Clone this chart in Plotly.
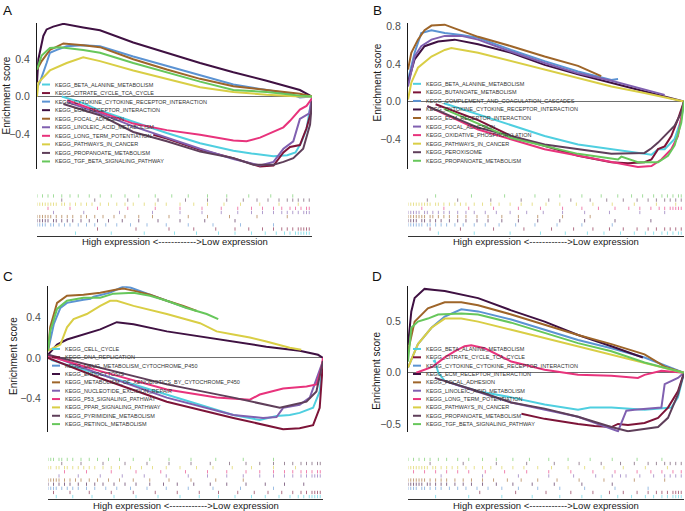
import plotly.graph_objects as go

W, H = 685, 511
FONT = "Liberation Sans, Arial, sans-serif"

# colours of the ten gene sets (same order in every panel)
COLORS = ["#4FCFE0", "#7D1438", "#5B93D3", "#3F1142", "#9E6529",
          "#8060B0", "#E8337C", "#D9CE45", "#5F3F5A", "#67C75B"]

# ---------- gene set names ----------
SETS_A = ["KEGG_BETA_ALANINE_METABOLISM", "KEGG_CITRATE_CYCLE_TCA_CYCLE",
          "KEGG_CYTOKINE_CYTOKINE_RECEPTOR_INTERACTION", "KEGG_ECM_RECEPTOR_INTERACTION",
          "KEGG_FOCAL_ADHESION", "KEGG_LINOLEIC_ACID_METABOLISM", "KEGG_LONG_TERM_POTENTIATION",
          "KEGG_PATHWAYS_IN_CANCER", "KEGG_PROPANOATE_METABOLISM", "KEGG_TGF_BETA_SIGNALING_PATHWAY"]
SETS_B = ["KEGG_BETA_ALANINE_METABOLISM", "KEGG_BUTANOATE_METABOLISM",
          "KEGG_COMPLEMENT_AND_COAGULATION_CASCADES", "KEGG_CYTOKINE_CYTOKINE_RECEPTOR_INTERACTION",
          "KEGG_ECM_RECEPTOR_INTERACTION", "KEGG_FOCAL_ADHESION", "KEGG_OXIDATIVE_PHOSPHORYLATION",
          "KEGG_PATHWAYS_IN_CANCER", "KEGG_PEROXISOME", "KEGG_PROPANOATE_METABOLISM"]
SETS_C = ["KEGG_CELL_CYCLE", "KEGG_DNA_REPLICATION", "KEGG_DRUG_METABOLISM_CYTOCHROME_P450",
          "KEGG_ENDOCYTOSIS", "KEGG_METABOLISM_OF_XENOBIOTICS_BY_CYTOCHROME_P450",
          "KEGG_NUCLEOTIDE_EXCISION_REPAIR", "KEGG_P53_SIGNALING_PATHWAY",
          "KEGG_PPAR_SIGNALING_PATHWAY", "KEGG_PYRIMIDINE_METABOLISM", "KEGG_RETINOL_METABOLISM"]
SETS_D = SETS_A

# ---------- running enrichment scores: (rank %, ES) ----------
A1 = [(9, 0.0), (16.8, -0.07), (22.9, -0.15), (35, -0.27), (47.2, -0.39), (59.3, -0.5), (71.4, -0.58),
      (78, -0.61), (86, -0.64), (91, -0.63), (94, -0.6), (96, -0.5), (98, -0.35), (100, 0)]
A2 = [(42.3, -0.41), (47.2, -0.45), (59.3, -0.57), (71.4, -0.66), (81.1, -0.75), (86, -0.74), (89.6, -0.6),
      (92, -0.54), (95.6, -0.52), (98, -0.34), (99.3, -0.2), (100, -0.02)]
A3 = [(0, 0.1), (1, 0.15), (3.5, 0.36), (4.7, 0.47), (7.2, 0.5), (10.8, 0.54), (16.8, 0.55), (22.9, 0.54),
      (35, 0.43), (47.2, 0.33), (59.3, 0.23), (71.4, 0.13), (83.5, 0.07), (92, 0.03), (95.6, -0.01), (100, 0)]
A4 = [(0, 0.15), (0.5, 0.4), (2.3, 0.65), (3.5, 0.72), (5.9, 0.75), (9.6, 0.78), (16.8, 0.74), (22.9, 0.71),
      (35, 0.58), (47.2, 0.47), (59.3, 0.36), (71.4, 0.26), (83.5, 0.17), (95.6, 0.07), (100, 0)]
A5 = [(0, 0.29), (1.7, 0.38), (4.7, 0.5), (9.6, 0.57), (16.8, 0.55), (22.9, 0.53), (35, 0.4), (47.2, 0.29),
      (59.3, 0.19), (71.4, 0.11), (83.5, 0.07), (95.6, 0.03), (100, 0)]
A6 = [(11, -0.06), (22.9, -0.18), (35, -0.32), (47.2, -0.44), (59.3, -0.56), (71.4, -0.67), (81.1, -0.74),
      (86, -0.7), (89.6, -0.56), (93.2, -0.48), (95.6, -0.24), (99, -0.18), (100, -0.02)]
A7 = [(11, -0.04), (22.9, -0.16), (35, -0.29), (47.2, -0.36), (59.3, -0.41), (71.4, -0.47), (76.2, -0.48),
      (81.1, -0.44), (83.5, -0.41), (87, -0.37), (89.6, -0.33), (92, -0.26), (95.6, -0.14), (98, -0.1), (100, -0.02)]
A8 = [(0, 0.0), (0.5, 0.15), (4.7, 0.28), (10.8, 0.36), (16.8, 0.42), (22.9, 0.38), (35, 0.28), (47.2, 0.19),
      (59.3, 0.1), (71.4, 0.05), (83.5, 0.02), (95.6, 0), (100, 0)]
A9 = [(9.6, -0.08), (22.9, -0.2), (35, -0.38), (47.2, -0.48), (59.3, -0.59), (71.4, -0.66), (78.7, -0.73),
      (86, -0.73), (89.6, -0.7), (93.2, -0.66), (96.8, -0.56), (99.3, -0.3), (100, -0.05)]
A10 = [(0, 0.29), (1.7, 0.44), (4.7, 0.52), (8.4, 0.53), (16.8, 0.5), (22.9, 0.47), (35, 0.36), (47.2, 0.26),
       (59.3, 0.16), (71.4, 0.07), (83.5, 0.05), (95.6, 0.01), (100, 0)]

B1 = [(13, -0.02), (25.4, -0.14), (37.4, -0.26), (49.5, -0.37), (61.6, -0.46), (73.7, -0.51), (85.7, -0.56),
      (88.2, -0.57), (90.6, -0.51), (93, -0.51), (96.6, -0.4), (99, -0.19), (100, 0)]
B2 = [(10, -0.03), (25.4, -0.2), (37.4, -0.37), (61.6, -0.58), (73.7, -0.65), (79.7, -0.66), (85.7, -0.65),
      (88.2, -0.62), (90.6, -0.51), (93, -0.48), (95.4, -0.37), (97.8, -0.19), (100, 0)]
B3 = [(0, 0.23), (2.4, 0.52), (4.8, 0.73), (8.5, 0.76), (13.3, 0.73), (19.3, 0.71), (25.4, 0.68), (37.4, 0.55),
      (49.5, 0.43), (61.6, 0.32), (73.7, 0.23), (76.1, 0.24)]
B4 = [(0, 0.2), (2.4, 0.45), (6, 0.59), (10.9, 0.64), (16.9, 0.66), (25.4, 0.61), (37.4, 0.52), (49.5, 0.39),
      (61.6, 0.29), (73.7, 0.2), (85.7, 0.11), (100, 0)]
B5 = [(0, 0.34), (1.2, 0.52), (3.6, 0.66), (6, 0.76), (8.5, 0.81), (13.3, 0.82), (16.9, 0.78), (25.4, 0.69),
      (37.4, 0.59), (49.5, 0.48), (61.6, 0.38), (70, 0.27)]
B6 = [(0, 0.16), (2.4, 0.48), (4.8, 0.59), (8.5, 0.66), (13.3, 0.7), (19.3, 0.7), (25.4, 0.66), (37.4, 0.53),
      (49.5, 0.41), (61.6, 0.3), (73.7, 0.22), (85.7, 0.13), (93, 0.07)]
B7 = [(7, -0.05), (25.4, -0.3), (49.5, -0.51), (73.7, -0.65), (83.3, -0.7), (88.2, -0.69), (91.8, -0.62),
      (95.4, -0.51), (97.8, -0.37), (100, 0)]
B8 = [(0, 0.02), (1.2, 0.2), (3.6, 0.36), (8.5, 0.48), (13.3, 0.55), (15.7, 0.57), (25.4, 0.52), (37.4, 0.43),
      (49.5, 0.34), (61.6, 0.25), (73.7, 0.16), (85.7, 0.09), (100, 0)]
B9 = [(7, -0.05), (25.4, -0.28), (49.5, -0.46), (73.7, -0.56), (85.7, -0.55), (88.2, -0.5), (90.6, -0.44),
      (93, -0.37), (96.6, -0.26), (99, -0.12), (100, 0)]
B10 = [(13, -0.08), (37.4, -0.39), (61.6, -0.56), (76.1, -0.62), (77.3, -0.59), (83.3, -0.65), (90.6, -0.65),
       (94.2, -0.58), (96.6, -0.47), (99, -0.23), (100, 0)]

C1 = [(1, -0.02), (6.9, -0.07), (19, -0.16), (31.1, -0.26), (43.2, -0.36), (55.3, -0.46), (67.4, -0.56),
      (77, -0.61), (83.1, -0.57), (87.9, -0.56), (91.5, -0.54), (96.4, -0.49), (98.8, -0.33), (100, -0.03)]
C2 = [(0, 0.0), (19, -0.2), (43.2, -0.43), (67.4, -0.59), (85.5, -0.7), (91.5, -0.69), (96.4, -0.66),
      (98.8, -0.49), (100, -0.03)]
C3 = [(0, 0.07), (2.1, 0.33), (4.5, 0.49), (6.9, 0.54), (12.9, 0.57), (15.4, 0.58), (16.6, 0.6), (22.6, 0.64),
      (27.4, 0.7), (29.9, 0.69), (37.1, 0.62), (43.2, 0.56), (50.4, 0.49)]
C4 = [(0, 0.03), (3.3, 0.13), (6.9, 0.18), (12.9, 0.23), (19, 0.28), (25, 0.35), (31.1, 0.33), (43.2, 0.26),
      (55.3, 0.21), (67.4, 0.16), (79.4, 0.11), (91.5, 0.07), (98.2, 0.03), (100, 0.0)]
C5 = [(0, 0.07), (0.8, 0.3), (3.3, 0.54), (6.9, 0.61), (12.9, 0.62), (19, 0.64), (25, 0.67), (27.4, 0.68),
      (31.1, 0.66), (37.1, 0.62), (43.2, 0.56), (49.2, 0.51), (54.1, 0.46)]
C6 = [(0, 0.03), (19, -0.16), (43.2, -0.39), (67.4, -0.56), (78.2, -0.59), (83.1, -0.58), (85.5, -0.49),
      (91.5, -0.46), (95.2, -0.39), (97.6, -0.2), (100, -0.03)]
C7 = [(0, 0.02), (19, -0.13), (43.2, -0.31), (61.3, -0.39), (73.4, -0.41), (77, -0.36), (85.5, -0.3),
      (94, -0.28), (97.6, -0.26), (99.4, -0.1), (100, 0)]
C8 = [(0, 0.07), (4.5, 0.13), (6.9, 0.3), (9.3, 0.38), (14.1, 0.43), (19, 0.51), (22.6, 0.56), (25, 0.56),
      (31.1, 0.51), (43.2, 0.43), (55.3, 0.34), (61.3, 0.26), (67.4, 0.23), (73.4, 0.2), (79.4, 0.16),
      (87.9, 0.1), (92.1, 0.08)]
C9 = [(0, 0.03), (19, -0.1), (43.2, -0.26), (67.4, -0.39), (84.3, -0.49), (89.1, -0.46), (94, -0.43),
      (97.6, -0.33), (100, -0.03)]
C10 = [(0, 0.07), (0.8, 0.26), (3.3, 0.48), (6.9, 0.56), (12.9, 0.59), (19, 0.59), (23.8, 0.63), (31.1, 0.64),
       (37.1, 0.61), (43.2, 0.56), (50.4, 0.49), (57.7, 0.43), (61.9, 0.38)]

D1 = [(9.1, 0.11), (9.7, 0.12), (11, 0.0), (13.3, -0.08), (25.4, -0.18), (37.4, -0.24), (49.5, -0.31),
      (61.6, -0.36), (66, -0.34), (73.7, -0.34), (85.7, -0.36), (95.4, -0.34), (97.8, -0.24), (99, -0.11), (100, 0)]
D2 = [(41.1, -0.4), (49.5, -0.45), (61.6, -0.5), (67.6, -0.52), (73.7, -0.53), (76.1, -0.5), (79.7, -0.51),
      (85.7, -0.49), (90.6, -0.44), (94.2, -0.34), (97.8, -0.18), (100, 0)]
D3 = [(0, 0.05), (3.6, 0.28), (8.5, 0.44), (13.3, 0.55), (19.3, 0.62), (25.4, 0.6), (37.4, 0.52), (49.5, 0.42),
      (61.6, 0.32), (73.7, 0.24), (85.7, 0.15), (100, 0)]
D4 = [(0, 0.27), (1.2, 0.6), (2.4, 0.73), (6, 0.82), (9.7, 0.81), (13.3, 0.8), (25.4, 0.73), (37.4, 0.61),
      (49.5, 0.5), (61.6, 0.37), (73.7, 0.26), (85.1, 0.15)]
D5 = [(0, 0.21), (2.4, 0.5), (7.2, 0.63), (13.3, 0.69), (19.3, 0.69), (25.4, 0.66), (37.4, 0.57), (49.5, 0.47),
      (61.6, 0.37), (73.7, 0.28), (85.7, 0.18), (93, 0.06), (100, 0)]
D6 = [(13.3, -0.08), (37.4, -0.29), (61.6, -0.43), (76.1, -0.57), (79.1, -0.37), (82.1, -0.36), (91.8, -0.34),
      (93, -0.11), (97.8, -0.05), (100, 0)]
D7 = [(3, 0.0), (9, 0.06), (13.3, 0.15), (16.9, 0.21), (20.5, 0.26), (22.9, 0.27), (27.8, 0.24), (37.4, 0.11),
      (49.5, 0.03), (61.6, -0.02), (73.7, -0.03), (83.3, -0.05), (85.7, -0.02), (91.8, 0.02), (100, 0)]
D8 = [(0, 0.05), (3.6, 0.28), (8.5, 0.44), (13.3, 0.53), (19.3, 0.53), (25.4, 0.5), (37.4, 0.42), (49.5, 0.34),
      (61.6, 0.26), (73.7, 0.18), (85.7, 0.1), (100, 0)]
D9 = [(9.7, -0.05), (25.4, -0.18), (37.4, -0.29), (49.5, -0.35), (61.6, -0.43), (73.7, -0.53), (79.7, -0.57),
      (85.7, -0.55), (90.6, -0.53), (94.2, -0.44), (97.8, -0.21), (100, 0)]
D10 = [(0, 0.11), (1.2, 0.44), (3.6, 0.5), (7.2, 0.53), (10.9, 0.57), (19.3, 0.58), (25.4, 0.57), (37.4, 0.49),
       (49.5, 0.39), (61.6, 0.29), (73.7, 0.21), (85.7, 0.1), (100, 0)]

# ---------- hit positions (rank %) for the barcode rows ----------
RUG_A = [
    [14, 27, 39, 50, 58, 66, 72, 78, 83, 87, 90, 92, 94, 95, 96, 97, 98, 99],
    [22, 36, 48, 57, 65, 72, 77, 82, 86, 89, 91, 93, 95, 96, 97, 98, 99],
    [0, 1, 2, 3, 5, 6, 8, 10, 12, 15, 18, 21, 25, 29, 34, 40, 47, 55, 64, 74, 86],
    [0, 1, 2, 3, 4, 6, 7, 9, 11, 13, 16, 19, 22, 26, 31, 37, 44, 52, 61, 72],
    [0, 1, 2, 3, 4, 5, 7, 9, 11, 13, 16, 18, 21, 24, 28, 32, 37, 42, 48, 55, 62, 70, 80, 91],
    [6, 17, 30, 42, 52, 60, 67, 73, 78, 82, 86, 89, 91, 93, 95, 97, 98, 99],
    [4, 12, 22, 33, 43, 52, 60, 67, 73, 78, 82, 86, 89, 92, 94, 96, 98, 99],
    [0, 1, 2, 3, 4, 5, 6, 7, 9, 10, 12, 14, 16, 18, 20, 23, 26, 29, 32, 35, 39, 43, 47, 52, 57, 62, 68, 74, 81, 88, 95],
    [9, 21, 33, 44, 54, 62, 69, 75, 80, 84, 88, 91, 93, 95, 97, 99],
    [0, 2, 4, 6, 9, 12, 15, 19, 23, 27, 32, 37, 43, 49, 55, 62, 69, 77, 85, 93],
]
RUG_B = [
    [11, 24, 37, 48, 57, 65, 71, 77, 82, 86, 89, 92, 94, 96, 98, 99],
    [8, 19, 31, 42, 52, 60, 67, 73, 78, 83, 87, 90, 93, 95, 97, 99],
    [0, 1, 2, 3, 4, 5, 7, 8, 10, 12, 14, 17, 20, 24, 28, 33, 39, 46, 54, 63, 74],
    [0, 1, 2, 3, 5, 6, 8, 10, 12, 15, 18, 21, 25, 29, 34, 40, 47, 55, 64, 75, 88],
    [0, 1, 2, 3, 4, 5, 6, 8, 9, 11, 13, 15, 18, 21, 25, 29, 34, 40, 47, 56, 66],
    [0, 1, 2, 3, 4, 6, 7, 9, 11, 13, 15, 18, 21, 24, 28, 32, 37, 43, 49, 56, 64, 73, 84, 93],
    [5, 13, 22, 31, 40, 48, 56, 63, 69, 75, 80, 84, 88, 91, 93, 95, 96, 97, 98, 99],
    [0, 1, 2, 3, 4, 5, 6, 7, 8, 10, 11, 13, 15, 17, 19, 21, 24, 27, 30, 33, 37, 41, 45, 50, 55, 61, 67, 74, 82, 90, 97],
    [7, 18, 30, 41, 51, 59, 66, 72, 78, 83, 87, 90, 93, 95, 97, 99],
    [10, 23, 35, 46, 55, 63, 70, 76, 81, 85, 89, 92, 94, 96, 98, 99],
]
RUG_C = [
    [3, 9, 16, 24, 32, 40, 48, 55, 62, 68, 74, 79, 84, 88, 91, 93, 95, 96, 97, 98, 99],
    [2, 8, 15, 23, 31, 39, 47, 55, 62, 69, 75, 80, 85, 89, 92, 94, 96, 97, 98, 99],
    [0, 1, 2, 3, 5, 7, 9, 11, 14, 17, 21, 25, 30, 36, 43, 51, 60, 70, 82],
    [0, 2, 4, 6, 8, 11, 14, 17, 20, 24, 28, 32, 37, 42, 47, 53, 59, 65, 72, 79, 86, 93],
    [0, 1, 2, 3, 4, 6, 8, 10, 12, 15, 18, 22, 26, 31, 37, 44, 52, 61, 71],
    [4, 11, 19, 27, 35, 43, 51, 58, 65, 71, 77, 82, 86, 89, 92, 94, 96, 97, 98, 99],
    [6, 14, 23, 32, 41, 50, 58, 65, 72, 77, 82, 86, 89, 92, 94, 96, 98, 99],
    [0, 1, 3, 4, 6, 7, 9, 11, 13, 15, 17, 20, 23, 26, 30, 34, 38, 43, 48, 54, 60, 67, 74, 82, 90],
    [5, 12, 20, 28, 36, 44, 52, 59, 66, 72, 77, 82, 86, 89, 92, 94, 96, 98, 99],
    [0, 1, 2, 4, 5, 7, 9, 12, 15, 18, 22, 26, 31, 37, 44, 52, 61, 71, 82],
]
RUG_D = [
    [10, 22, 34, 45, 55, 63, 70, 76, 81, 86, 89, 92, 94, 96, 97, 98, 99],
    [26, 39, 50, 59, 67, 73, 78, 83, 87, 90, 92, 94, 96, 97, 98, 99],
    [0, 1, 2, 3, 5, 6, 8, 10, 12, 15, 18, 21, 25, 29, 34, 40, 47, 55, 64, 75, 87],
    [0, 1, 2, 3, 4, 5, 7, 8, 10, 12, 14, 17, 20, 23, 27, 32, 38, 45, 53, 63, 74],
    [0, 1, 2, 3, 4, 5, 6, 8, 10, 12, 14, 17, 20, 23, 27, 31, 36, 41, 47, 54, 62, 71, 82, 93],
    [12, 27, 40, 51, 60, 68, 74, 77, 79, 84, 89, 93, 95, 97, 99],
    [2, 6, 10, 14, 18, 22, 28, 35, 43, 51, 59, 67, 75, 83, 88, 92, 96, 99],
    [0, 1, 2, 3, 4, 5, 6, 7, 9, 10, 12, 14, 16, 18, 21, 24, 27, 30, 34, 38, 42, 47, 52, 58, 64, 71, 78, 86, 94],
    [8, 20, 32, 43, 53, 62, 70, 77, 82, 87, 90, 93, 95, 97, 99],
    [0, 2, 4, 6, 8, 11, 14, 18, 22, 27, 32, 38, 44, 51, 58, 66, 74, 83, 92],
]

# ---------- layout (pixel boxes) ----------
PANELS = [
    dict(tag="A", sets=SETS_A, curves=[A1, A2, A3, A4, A5, A6, A7, A8, A9, A10], rug=RUG_A,
         box=(37, 312, 20, 167), rugbox=(192, 234), yr=(-0.777, 0.79),
         ticks=[-0.4, 0.0, 0.4], ticktext=["\u22120.4", "0.0", "0.4"],
         leg=(42, 82, 8.6), letter=(8, 8), ytitle=(6, 93), textrow=240),
    dict(tag="B", sets=SETS_B, curves=[B1, B2, B3, B4, B5, B6, B7, B8, B9, B10], rug=RUG_B,
         box=(408, 684, 20, 167), rugbox=(192, 234), yr=(-0.722, 0.839),
         ticks=[-0.4, 0.0, 0.4, 0.8], ticktext=["\u22120.4", "0.0", "0.4", "0.8"],
         leg=(413, 81.3, 8.6), letter=(377, 8), ytitle=(378, 80), textrow=240),
    dict(tag="C", sets=SETS_C, curves=[C1, C2, C3, C4, C5, C6, C7, C8, C9, C10], rug=RUG_C,
         box=(48, 323, 285, 432), rugbox=(457, 499), yr=(-0.732, 0.702),
         ticks=[-0.4, 0.0, 0.4], ticktext=["\u22120.4", "0.0", "0.4"],
         leg=(52, 348, 8.4), letter=(8, 275), ytitle=(14, 355), textrow=505),
    dict(tag="D", sets=SETS_D, curves=[D1, D2, D3, D4, D5, D6, D7, D8, D9, D10], rug=RUG_D,
         box=(408, 684, 285, 432), rugbox=(457, 499), yr=(-0.583, 0.845),
         ticks=[-0.5, 0.0, 0.5], ticktext=["\u22120.5", "0.0", "0.5"],
         leg=(413, 348, 8.4), letter=(377, 275), ytitle=(377, 370), textrow=505),
]


def px_x(x):
    return x / W


def px_y(y):
    return 1 - y / H


fig = go.Figure()
layout = {}
annotations = []
shapes = []

for i, p in enumerate(PANELS):
    n_main = 2 * i + 1
    n_rug = 2 * i + 2
    x0, x1, y0, y1 = p["box"]
    r0, r1 = p["rugbox"]
    sfx_m = "" if n_main == 1 else str(n_main)
    sfx_r = str(n_rug)

    layout["xaxis" + sfx_m] = dict(domain=[px_x(x0), px_x(x1)], range=[0, 100], visible=False,
                                   anchor="y" + sfx_m)
    layout["yaxis" + sfx_m] = dict(domain=[px_y(y1), px_y(y0)], range=list(p["yr"]), anchor="x" + sfx_m,
                                   showline=True, linecolor="#1a1a1a", linewidth=1,
                                   showgrid=False, zeroline=True, zerolinecolor="#6e6e6e",
                                   zerolinewidth=1.3, tickvals=p["ticks"], ticktext=p["ticktext"],
                                   ticks="", ticklabelstandoff=4,
                                   tickfont=dict(family=FONT, size=10.5, color="#4d4d4d"))
    layout["xaxis" + sfx_r] = dict(domain=[px_x(x0), px_x(x1)], range=[0, 100], anchor="y" + sfx_r,
                                   showline=True, linecolor="#333333", linewidth=1, showgrid=False,
                                   zeroline=False, showticklabels=False, ticks="")
    layout["yaxis" + sfx_r] = dict(domain=[px_y(r1), px_y(r0)], range=[-0.1, 10], anchor="x" + sfx_r,
                                   visible=False)

    # curves
    for k, pts in enumerate(p["curves"]):
        fig.add_trace(go.Scatter(
            x=[q[0] for q in pts], y=[q[1] for q in pts], mode="lines",
            line=dict(color=COLORS[k], width=2), xaxis="x" + sfx_m, yaxis="y" + sfx_m,
            showlegend=False, hoverinfo="skip"))

    # barcode rows, first gene set at the bottom
    for k, hits in enumerate(p["rug"]):
        xs, ys = [], []
        for h in hits:
            xs += [h, h, None]
            ys += [k + 0.1, k + 0.9, None]
        fig.add_trace(go.Scatter(
            x=xs, y=ys, mode="lines", line=dict(color=COLORS[k], width=1), opacity=0.6,
            xaxis="x" + sfx_r, yaxis="y" + sfx_r, showlegend=False, hoverinfo="skip"))

    # in-panel legend drawn as swatches + text
    lx, ly, dy = p["leg"]
    for k, name in enumerate(p["sets"]):
        yy = ly + k * dy
        shapes.append(dict(type="line", xref="paper", yref="paper",
                           x0=px_x(lx), x1=px_x(lx + 8), y0=px_y(yy), y1=px_y(yy),
                           line=dict(color=COLORS[k], width=2)))
        annotations.append(dict(text=name, xref="paper", yref="paper", x=px_x(lx + 11), y=px_y(yy),
                                xanchor="left", yanchor="middle", showarrow=False,
                                font=dict(family=FONT, size=5.5, color="#333333")))

    # panel letter, y title, rug caption
    annotations.append(dict(text=p["tag"], xref="paper", yref="paper", x=px_x(p["letter"][0]),
                            y=px_y(p["letter"][1]), xanchor="center", yanchor="middle", showarrow=False,
                            font=dict(family=FONT, size=13.5, color="#111111")))
    annotations.append(dict(text="Enrichment score", xref="paper", yref="paper", x=px_x(p["ytitle"][0]),
                            y=px_y(p["ytitle"][1]), xanchor="center", yanchor="middle", textangle=-90,
                            showarrow=False, font=dict(family=FONT, size=10, color="#1a1a1a")))
    annotations.append(dict(text="High expression <------------>Low expression", xref="paper", yref="paper",
                            x=px_x((x0 + x1) / 2), y=px_y(p["textrow"]), xanchor="center", yanchor="middle",
                            showarrow=False, font=dict(family=FONT, size=9.5, color="#1a1a1a")))

fig.update_layout(
    width=W, height=H,
    margin=dict(l=0, r=0, t=0, b=0),
    paper_bgcolor="white", plot_bgcolor="white",
    font=dict(family=FONT),
    annotations=annotations, shapes=shapes,
    **layout,
)

# drop the default page margin so the figure sits at the window's top-left corner
fig.write_html("out.html", config={"displayModeBar": False},
               post_script="document.body.style.margin='0';")
